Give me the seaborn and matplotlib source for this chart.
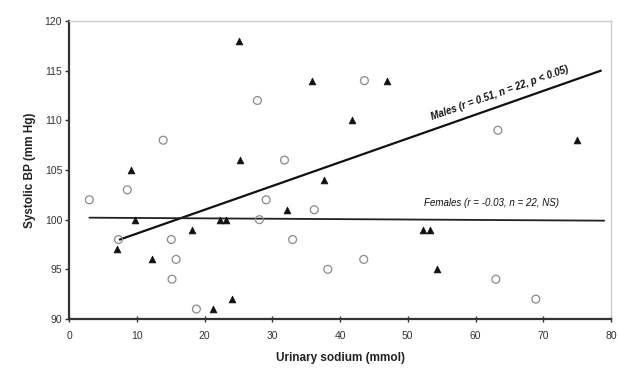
import matplotlib
matplotlib.use("Agg")
import matplotlib.pyplot as plt
import seaborn as sns
import pandas as pd

# Data
male_sodium = [7.1, 9.2, 9.8, 12.3, 18.2, 21.2, 22.3, 23.2, 24.0, 25.1, 25.3,
               32.2, 35.8, 37.6, 41.7, 46.9, 52.3, 53.3, 54.3, 75.0]
male_bp = [97, 105, 100, 96, 99, 91, 100, 100, 92, 118, 106,
           101, 114, 104, 110, 114, 99, 99, 95, 108]
female_sodium = [3.0, 8.6, 7.3, 13.9, 15.1, 15.2, 15.8, 18.8, 27.8, 28.1, 29.1,
                 31.8, 33.0, 36.2, 38.2, 43.5, 43.6, 63.0, 63.3, 68.9]
female_bp = [102, 103, 98, 108, 98, 94, 96, 91, 112, 100, 102,
             106, 98, 101, 95, 96, 114, 94, 109, 92]

male_fit_x = [7.5, 78.5]
male_fit_y = [98.0, 115.0]
female_fit_x = [3.0, 79.0]
female_fit_y = [100.2, 99.9]

male_label = "Males (r = 0.51, n = 22, p < 0.05)"
female_label = "Females (r = -0.03, n = 22, NS)"
x_label = "Urinary sodium (mmol)"
y_label = "Systolic BP (mm Hg)"
x_ticks = [0, 10, 20, 30, 40, 50, 60, 70, 80]
y_ticks = [90, 95, 100, 105, 110, 115, 120]

sns.set_style("white")
plt.rcParams['font.family'] = ['Liberation Sans', 'DejaVu Sans']

fig = plt.figure(figsize=(6.18, 3.72), dpi=100)
ax = fig.add_axes([0.1117, 0.1425, 0.8770, 0.8010])

dm = pd.DataFrame({"x": male_sodium, "y": male_bp})
df = pd.DataFrame({"x": female_sodium, "y": female_bp})

sns.scatterplot(data=df, x="x", y="y", ax=ax, marker="o", s=32,
                facecolor="none", edgecolor="#8a8a8a", linewidth=0.9, zorder=3)
sns.scatterplot(data=dm, x="x", y="y", ax=ax, marker="^", s=24,
                color="#111111", edgecolor="#111111", linewidth=0.5, zorder=4)

sns.lineplot(x=male_fit_x, y=male_fit_y, ax=ax, color="#111111", lw=1.6, zorder=2)
sns.lineplot(x=female_fit_x, y=female_fit_y, ax=ax, color="#222222", lw=1.3, zorder=2)

narrow = ['Liberation Sans Narrow', 'Liberation Sans', 'DejaVu Sans']
ax.text(63.6, 112.7, male_label, rotation=19.5, ha="center", va="center",
        fontsize=7, style="italic", color="#111111", fontweight="bold", family=narrow)
ax.text(62.3, 101.7, female_label, ha="center", va="center",
        fontsize=7, style="italic", color="#111111", family=narrow)

ax.set_xlim(0, 80)
ax.set_ylim(90, 120)
ax.set_xticks(x_ticks)
ax.set_yticks(y_ticks)
ax.set_xticklabels([str(t) for t in x_ticks], fontsize=7.5, color="#333333")
ax.set_yticklabels([str(t) for t in y_ticks], fontsize=7.5, color="#333333")
ax.set_xlabel(x_label, fontsize=8.5, fontweight="bold", color="#222222", labelpad=8)
ax.set_ylabel(y_label, fontsize=8.5, fontweight="bold", color="#222222", labelpad=6)

for s in ["left", "bottom"]:
    ax.spines[s].set_color("#333333")
    ax.spines[s].set_linewidth(1.6)
for s in ["top", "right"]:
    ax.spines[s].set_color("#cccccc")
    ax.spines[s].set_linewidth(1.0)

ax.tick_params(axis="y", direction="out", length=3, width=1, color="#333333", left=True, pad=2)
ax.tick_params(axis="x", direction="inout", length=5, width=1, color="#333333", bottom=True, pad=6)

fig.savefig("out.png", dpi=100)
